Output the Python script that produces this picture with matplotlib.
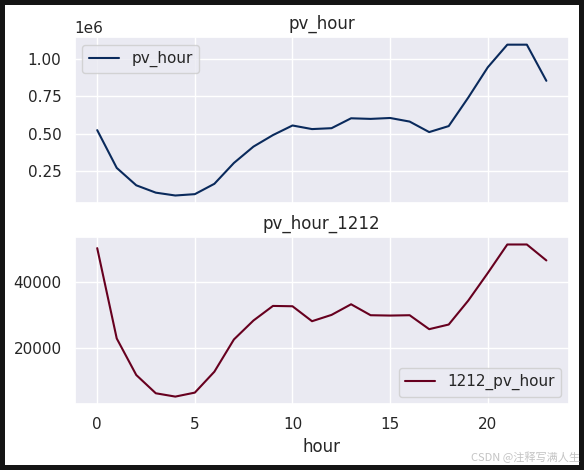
import numpy as np
import pandas as pd
import seaborn as sns
import matplotlib.pyplot as plt

hours = list(range(24))
pv_hour = [524000, 272000, 156000, 107000, 88000, 97000, 166000, 305000,
           414000, 491000, 555000, 531000, 537000, 603000, 599000, 605000,
           581000, 511000, 551000, 741000, 943000, 1094000, 1094000, 853000]
pv_hour_1212 = [50200, 23000, 12000, 6500, 5500, 6700, 13000, 22700,
                28400, 32800, 32700, 28200, 30100, 33300, 30000, 29900,
                30000, 25800, 27200, 34400, 42700, 51300, 51300, 46500]

sns.set_theme()
plt.rcParams['font.family'] = ['DejaVu Sans', 'Noto Sans CJK SC']

fig = plt.figure(figsize=(5.84, 4.70), dpi=100)
fig.patch.set_edgecolor('#141414')
fig.patch.set_linewidth(6)

ax1 = fig.add_axes([0.128, 0.568, 0.846, 0.353])
ax2 = fig.add_axes([0.128, 0.140, 0.846, 0.356], sharex=ax1)

ax1.plot(hours, pv_hour, color='#0a2a5c', label='pv_hour')
ax1.set_title('pv_hour')
ax1.legend(loc='upper left')
plt.setp(ax1.get_xticklabels(), visible=False)

ax2.plot(hours, pv_hour_1212, color='#67001f', label='1212_pv_hour')
ax2.set_title('pv_hour_1212')
ax2.set_xlabel('hour')
ax2.legend(loc='lower right')

fig.text(0.993, 0.015, 'CSDN @注释写满人生', ha='right', va='bottom',
         fontsize=8, color='#c4c4c4', family=['Noto Sans CJK SC', 'DejaVu Sans'])

fig.savefig('out.png', dpi=100)
